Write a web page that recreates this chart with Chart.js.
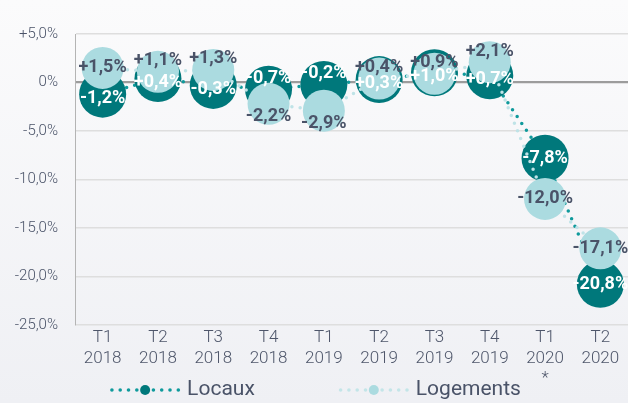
<!DOCTYPE html>
<html>
<head>
<meta charset="utf-8">
<script src="https://cdn.jsdelivr.net/npm/chart.js@4/dist/chart.umd.min.js"></script>
<style>
  html, body { margin: 0; padding: 0; width: 628px; height: 403px; overflow: hidden;
    background: linear-gradient(#fbfbfc, #eff0f4); }
  #wrap { position: relative; width: 628px; height: 403px; }
</style>
</head>
<body>
<div id="wrap"><canvas id="c" width="628" height="403"></canvas></div>
<script>
const categories = [['T1','2018'],['T2','2018'],['T3','2018'],['T4','2018'],['T1','2019'],['T2','2019'],['T3','2019'],['T4','2019'],['T1','2020','*'],['T2','2020']];
const locaux    = [-1.2, 0.4, -0.3, -0.7, -0.2, 0.3, 1.0, 0.7, -7.8, -20.8];
const logements = [1.5, 1.1, 1.3, -2.2, -2.9, 0.4, 0.9, 2.1, -12.0, -17.1];
const seriesNames = ['Locaux', 'Logements'];
const yTicks = [5, 0, -5, -10, -15, -20, -25];

const DARK = '#00787b';
const LIGHT = '#abdbe0';
const TEXT = '#4a5368';

function fmt(v) {
  if (v === 0) return '0%';
  const s = Math.abs(v).toFixed(1).replace('.', ',');
  return (v > 0 ? '+' : '-') + s + '%';
}

const labelPlugin = {
  id: 'pointLabels',
  afterDatasetsDraw(chart) {
    const ctx = chart.ctx;
    const yScale = chart.scales.y;
    const mLoc = chart.getDatasetMeta(0);
    const mLog = chart.getDatasetMeta(1);
    ctx.save();
    ctx.font = 'bold 18px Roboto, "Noto Sans", sans-serif';
    ctx.textAlign = 'center';
    ctx.textBaseline = 'middle';
    const drawFor = (meta, values, color, isLog) => {
      meta.data.forEach((pt, i) => {
        const lc = locaux[i], lg = logements[i];
        const dist = Math.abs(yScale.getPixelForValue(lc) - yScale.getPixelForValue(lg));
        let off = 0;
        if (dist < 35) {
          const logUp = lg > lc - 0.5;
          if (isLog) off = logUp ? (dist > 22 ? 0 : -11) : 13;
          else off = logUp ? 4 : -11;
        }
        ctx.fillStyle = color;
        ctx.fillText(fmt(values[i]), pt.x, pt.y + off);
      });
    };
    drawFor(mLoc, locaux, '#ffffff', false);
    drawFor(mLog, logements, TEXT, true);
    ctx.restore();
  }
};

const legendPlugin = {
  id: 'customLegend',
  afterDraw(chart) {
    const ctx = chart.ctx;
    ctx.save();
    ctx.font = '21px Roboto, "Noto Sans", sans-serif';
    ctx.textBaseline = 'middle';
    const markerW = 68, gap = 8, itemGap = 85, y = 390;
    const cols = [DARK, LIGHT];
    const dotCols = ['#0f9a9c', '#c3e5e8'];
    const widths = seriesNames.map(n => ctx.measureText(n).width);
    const total = widths.reduce((a, w) => a + markerW + gap + w, 0) + itemGap * (seriesNames.length - 1);
    let x = chart.width / 2 + 2 - total / 2;
    seriesNames.forEach((name, k) => {
      const cx = x + markerW / 2;
      ctx.fillStyle = dotCols[k];
      for (let d = -4; d <= 4; d++) {
        if (d === 0) continue;
        ctx.beginPath();
        ctx.arc(cx + d * 8.3, y, 1.8, 0, Math.PI * 2);
        ctx.fill();
      }
      ctx.fillStyle = cols[k];
      ctx.beginPath();
      ctx.arc(cx, y, 5, 0, Math.PI * 2);
      ctx.fill();
      ctx.fillStyle = TEXT;
      ctx.textAlign = 'left';
      ctx.fillText(name, x + markerW + gap, y);
      x += markerW + gap + widths[k] + itemGap;
    });
    ctx.restore();
  }
};

new Chart(document.getElementById('c'), {
  type: 'line',
  data: {
    labels: categories,
    datasets: [
      {
        label: seriesNames[0], data: locaux, order: 2,
        borderColor: '#0f9a9c', backgroundColor: DARK,
        pointBackgroundColor: DARK, pointBorderWidth: 0, pointRadius: 23.5, pointHoverRadius: 23.5,
        borderWidth: 3.5, borderDash: [0, 8.3], borderCapStyle: 'round', tension: 0, clip: false
      },
      {
        label: seriesNames[1], data: logements, order: 1,
        borderColor: '#bfe3e7', backgroundColor: LIGHT,
        pointBackgroundColor: LIGHT, pointBorderWidth: 0, pointRadius: 21, pointHoverRadius: 21,
        borderWidth: 3.5, borderDash: [0, 8.3], borderCapStyle: 'round', tension: 0, clip: false
      }
    ]
  },
  options: {
    responsive: false,
    animation: false,
    events: [],
    layout: { autoPadding: false, padding: { top: 34, left: 0, right: 0, bottom: 0 } },
    plugins: { legend: { display: false }, tooltip: { enabled: false } },
    scales: {
      x: {
        offset: true,
        grid: { display: false, drawTicks: false },
        border: { display: false },
        ticks: {
          color: '#4e566a', padding: 3, maxRotation: 0, autoSkip: false,
          font: { family: 'Roboto, "Noto Sans", sans-serif', size: 17, weight: 300, lineHeight: 1.2 }
        },
        afterFit(scale) { scale.height = 78; scale.paddingLeft = 0; scale.paddingRight = 0; }
      },
      y: {
        min: -25, max: 5,
        afterBuildTicks(scale) { scale.ticks = yTicks.map(v => ({ value: v })); },
        grid: {
          drawTicks: false,
          color: ctx => (ctx.tick && ctx.tick.value === 0) ? '#9c9c9c' : '#dedede',
          lineWidth: ctx => (ctx.tick && ctx.tick.value === 0) ? 2.2 : 1.5
        },
        border: { display: true, color: '#b4b4b4', width: 1 },
        ticks: {
          color: TEXT, padding: 17,
          font: { family: 'Roboto, "Noto Sans", sans-serif', size: 15, weight: 300 },
          callback: v => fmt(v)
        },
        afterFit(scale) { scale.width = 75; }
      }
    }
  },
  plugins: [labelPlugin, legendPlugin]
});
</script>
</body>
</html>
